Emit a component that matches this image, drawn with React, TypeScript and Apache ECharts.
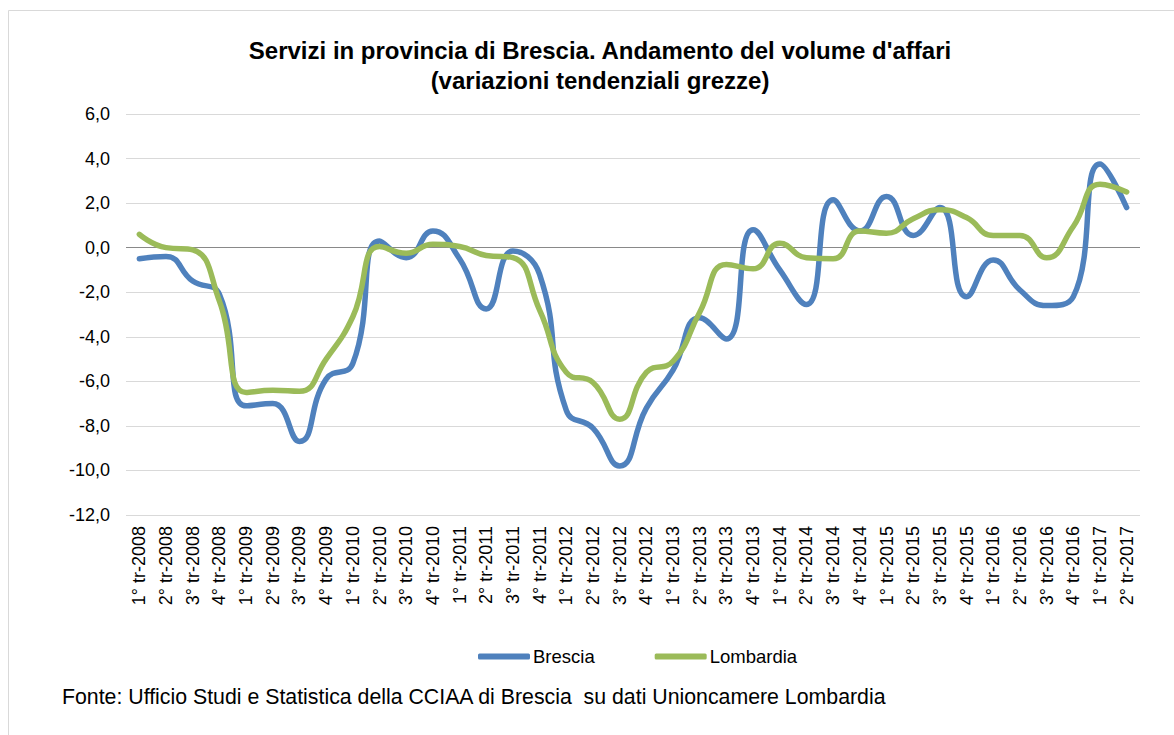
import React, { useEffect, useRef } from "react";
import * as echarts from "echarts";

const categories = [
  "1° tr-2008", "2° tr-2008", "3° tr-2008", "4° tr-2008",
  "1° tr-2009", "2° tr-2009", "3° tr-2009", "4° tr-2009",
  "1° tr-2010", "2° tr-2010", "3° tr-2010", "4° tr-2010",
  "1° tr-2011", "2° tr-2011", "3° tr-2011", "4° tr-2011",
  "1° tr-2012", "2° tr-2012", "3° tr-2012", "4° tr-2012",
  "1° tr-2013", "2° tr-2013", "3° tr-2013", "4° tr-2013",
  "1° tr-2014", "2° tr-2014", "3° tr-2014", "4° tr-2014",
  "1° tr-2015", "2° tr-2015", "3° tr-2015", "4° tr-2015",
  "1° tr-2016", "2° tr-2016", "3° tr-2016", "4° tr-2016",
  "1° tr-2017", "2° tr-2017",
];

const brescia = [
  -0.5, -0.4, -1.5, -2.1,
  -7.1, -7.0, -8.7, -5.9,
  -5.2, 0.3, -0.45, 0.75,
  -0.5, -2.75, -0.15, -1.2,
  -7.3, -8.1, -9.8, -7.2,
  -5.5, -3.15, -4.1, 0.8,
  -1.0, -2.55, 2.15, 0.75,
  2.3, 0.55, 1.8, -2.2,
  -0.55, -1.9, -2.6, -2.2,
  3.75, 1.8,
];

const lombardia = [
  0.6, 0.0, -0.1, -2.4,
  -6.5, -6.4, -6.45, -5.0,
  -3.1, 0.05, -0.25, 0.15,
  0.05, -0.35, -0.45, -2.8,
  -5.6, -6.05, -7.7, -5.6,
  -5.1, -2.9, -0.75, -0.95,
  0.2, -0.45, -0.5, 0.75,
  0.65, 1.3, 1.7, 1.35,
  0.55, 0.55, -0.45, 0.95,
  2.85, 2.5,
];

const titleLines = [
  "Servizi in provincia di Brescia. Andamento del volume d'affari",
  "(variazioni tendenziali grezze)",
];
const footer =
  "Fonte: Ufficio Studi e Statistica della CCIAA di Brescia  su dati Unioncamere Lombardia";

const FONT = "'Liberation Sans', Arial, sans-serif";

export default function App() {
  const ref = useRef<HTMLDivElement>(null);

  useEffect(() => {
    if (!ref.current) return;
    const chart = echarts.init(ref.current, undefined, { renderer: "svg" });
    chart.setOption({
      animation: false,
      backgroundColor: "#ffffff",
      textStyle: { fontFamily: FONT },
      graphic: [
        {
          type: "rect",
          shape: { x: 8.5, y: 10.5, width: 1200, height: 800 },
          style: { fill: "none", stroke: "#d9d9d9", lineWidth: 1 },
          silent: true,
        },
        {
          type: "text",
          x: 600,
          y: 50,
          style: {
            text: titleLines[0],
            font: `bold 24px ${FONT}`,
            fill: "#000000",
            textAlign: "center",
            textVerticalAlign: "middle",
          },
        },
        {
          type: "text",
          x: 600,
          y: 80,
          style: {
            text: titleLines[1],
            font: `bold 24px ${FONT}`,
            fill: "#000000",
            textAlign: "center",
            textVerticalAlign: "middle",
          },
        },
        {
          type: "text",
          x: 62,
          y: 697,
          style: {
            text: footer,
            font: `21.3px ${FONT}`,
            fill: "#000000",
            textAlign: "left",
            textVerticalAlign: "middle",
          },
        },
      ],
      legend: {
        left: 478,
        top: 647,
        padding: 0,
        itemWidth: 52,
        itemHeight: 6,
        itemGap: 60,
        icon: "roundRect",
        textStyle: { fontSize: 18.5, color: "#000000", padding: [0, 0, 0, -2] },
        data: ["Brescia", "Lombardia"],
      },
      grid: { left: 126, right: 34, top: 114, bottom: 220, containLabel: false },
      xAxis: {
        type: "category",
        data: categories,
        boundaryGap: true,
        axisLine: { show: false },
        axisTick: { show: false },
        axisLabel: {
          rotate: 90,
          interval: 0,
          margin: 11,
          fontSize: 18,
          color: "#000000",
        },
      },
      yAxis: {
        type: "value",
        min: -12,
        max: 6,
        interval: 2,
        axisLine: { show: false },
        axisTick: { show: false },
        splitLine: { lineStyle: { color: "#d9d9d9", width: 1 } },
        axisLabel: {
          margin: 16,
          fontSize: 18,
          color: "#000000",
          formatter: (v: number) => v.toFixed(1).replace(".", ","),
        },
      },
      series: [
        {
          name: "Brescia",
          type: "line",
          data: brescia,
          smooth: 0.5,
          symbol: "none",
          lineStyle: { color: "#4f81bd", width: 5.5, cap: "round", join: "round" },
          itemStyle: { color: "#4f81bd" },
          z: 3,
          markLine: {
            silent: true,
            symbol: "none",
            label: { show: false },
            lineStyle: { color: "#898989", width: 1, type: "solid" },
            data: [{ yAxis: 0 }],
            z: 1,
          },
        },
        {
          name: "Lombardia",
          type: "line",
          data: lombardia,
          smooth: 0.5,
          symbol: "none",
          lineStyle: { color: "#9bbb59", width: 5.5, cap: "round", join: "round" },
          itemStyle: { color: "#9bbb59" },
          z: 4,
        },
      ],
    });
    return () => chart.dispose();
  }, []);

  return (
    <div
      ref={ref}
      style={{ position: "fixed", left: 0, top: 0, width: 1174, height: 735 }}
    />
  );
}
